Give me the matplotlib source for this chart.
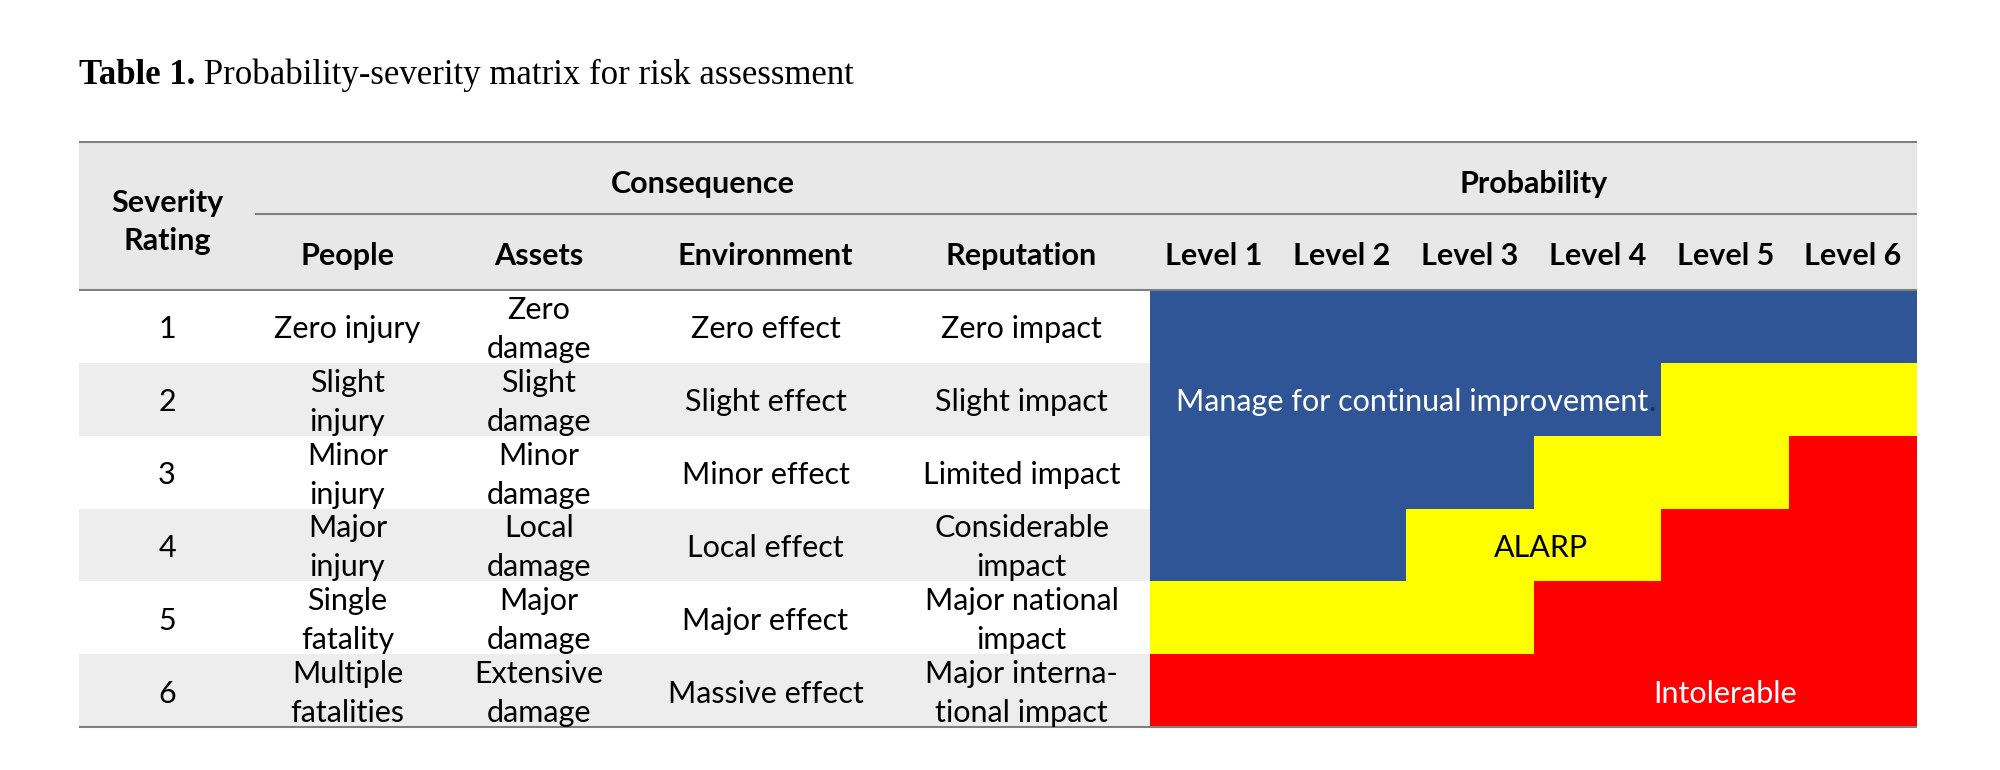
import matplotlib
matplotlib.use("Agg")
import matplotlib.pyplot as plt
from matplotlib.colors import ListedColormap
from matplotlib.patches import Rectangle
import numpy as np

plt.rcParams['font.family'] = ['Lato', 'DejaVu Sans']

# table content
ratings = ['1', '2', '3', '4', '5', '6']
people = ['Zero injury', 'Slight\ninjury', 'Minor\ninjury', 'Major\ninjury',
          'Single\nfatality', 'Multiple\nfatalities']
assets = ['Zero\ndamage', 'Slight\ndamage', 'Minor\ndamage', 'Local\ndamage',
          'Major\ndamage', 'Extensive\ndamage']
environment = ['Zero effect', 'Slight effect', 'Minor effect', 'Local effect',
               'Major effect', 'Massive effect']
reputation = ['Zero impact', 'Slight impact', 'Limited impact', 'Considerable\nimpact',
              'Major national\nimpact', 'Major interna-\ntional impact']
consequence_cols = ['People', 'Assets', 'Environment', 'Reputation']
levels = ['Level 1', 'Level 2', 'Level 3', 'Level 4', 'Level 5', 'Level 6']

# 0 = manage, 1 = ALARP, 2 = intolerable
risk = [[0, 0, 0, 0, 0, 0],
        [0, 0, 0, 0, 1, 1],
        [0, 0, 0, 1, 1, 2],
        [0, 0, 1, 1, 2, 2],
        [1, 1, 1, 2, 2, 2],
        [2, 2, 2, 2, 2, 2]]
zone_colors = ['#2F5597', '#FFFF00', '#FF0000']

# (text, colour, level position, row position)
zone_labels = [('Manage for continual improvement', 'white', 0.2, 1.5),
               ('ALARP', 'black', 3.06, 3.5),
               ('Intolerable', 'white', 4.5, 5.5)]

title_bold = 'Table 1.'
title_rest = ' Probability-severity matrix for risk assessment'

# layout in pixels
W, H = 2000, 770
left, right = 79, 1917
col_edges = [79, 255, 440, 638, 893, 1150]
top, mid, head_bot, bottom = 142, 214, 290, 727
prob_left = col_edges[-1]
lvl_w = (right - prob_left) / len(levels)
row_h = (bottom - head_bot) / len(ratings)
grey_head = '#E8E8E8'
grey_row = '#EDEDED'
line_c = '#7F7F7F'
fs = 22

fig = plt.figure(figsize=(W / 100, H / 100), dpi=100)
ax = fig.add_axes([0, 0, 1, 1])
ax.set_xlim(0, W)
ax.set_ylim(H, 0)
ax.axis('off')

# header background
ax.add_patch(Rectangle((left, top), right - left, head_bot - top, color=grey_head, lw=0))
# banded rows
for i in range(len(ratings)):
    if i % 2 == 1:
        ax.add_patch(Rectangle((left, head_bot + i * row_h), prob_left - left, row_h,
                               color=grey_row, lw=0))

# risk matrix
x_edges = prob_left + np.arange(len(levels) + 1) * lvl_w
y_edges = head_bot + np.arange(len(ratings) + 1) * row_h
ax.pcolormesh(x_edges, y_edges, np.array(risk), cmap=ListedColormap(zone_colors),
              vmin=-0.5, vmax=2.5)

# rules
ax.hlines([top, head_bot, bottom], left, right, color=line_c, lw=1.5)
ax.hlines(mid, col_edges[1], right, color=line_c, lw=1.5)

# header text
ax.text((col_edges[0] + col_edges[1]) / 2, (top + head_bot) / 2 + 6, 'Severity\nRating',
        ha='center', va='center', fontsize=fs, fontweight='bold', linespacing=1.45)
ax.text((col_edges[1] + col_edges[-1]) / 2, (top + mid) / 2 + 6, 'Consequence',
        ha='center', va='center', fontsize=fs, fontweight='bold')
ax.text((prob_left + right) / 2, (top + mid) / 2 + 6, 'Probability',
        ha='center', va='center', fontsize=fs, fontweight='bold')
for j, name in enumerate(consequence_cols):
    ax.text((col_edges[j + 1] + col_edges[j + 2]) / 2, (mid + head_bot) / 2 + 4, name,
            ha='center', va='center', fontsize=fs, fontweight='bold')
for j, name in enumerate(levels):
    ax.text(prob_left + (j + 0.5) * lvl_w, (mid + head_bot) / 2 + 4, name,
            ha='center', va='center', fontsize=fs, fontweight='bold')

# body text
columns = [ratings, people, assets, environment, reputation]
for j, col in enumerate(columns):
    xc = (col_edges[j] + col_edges[j + 1]) / 2
    for i, txt in enumerate(col):
        ax.text(xc, head_bot + (i + 0.5) * row_h + 3, txt, ha='center', va='center',
                fontsize=fs, linespacing=1.48)

# zone labels
for txt, c, lx, ry in zone_labels:
    ha = 'left' if lx < 1 else 'center'
    t = ax.text(prob_left + lx * lvl_w, head_bot + ry * row_h + 3, txt, ha=ha, va='center',
                fontsize=fs, color=c)
    if txt.startswith('Manage'):
        ax.annotate('.', xy=(1, 0), xycoords=t, va='bottom', ha='left',
                    fontsize=fs, color='#1F2A44')

# title
t1 = ax.text(left, 84, title_bold, ha='left', va='baseline', fontsize=25,
             fontweight='bold', family='Liberation Serif')
ax.annotate(title_rest, xy=(1, 0), xycoords=t1, va='bottom', ha='left',
            fontsize=25, family='Liberation Serif')

fig.savefig('out.png', dpi=100)
